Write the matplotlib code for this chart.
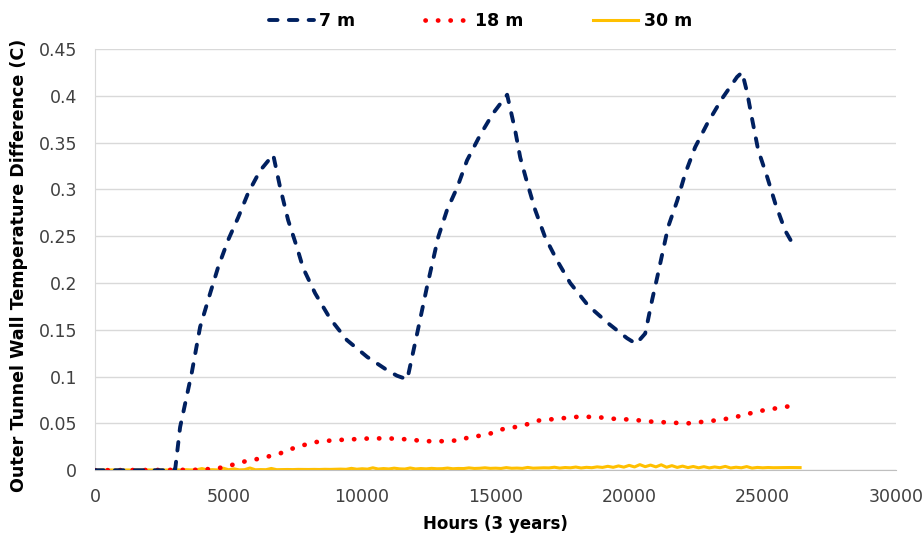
import matplotlib
matplotlib.use("Agg")
import matplotlib.pyplot as plt
import numpy as np

# ---- data ----
h7 = [0, 2900, 3000, 3184, 3620, 3933, 4310, 4610, 4985, 5360, 5730, 6180, 6670, 6930, 7230, 7560,
      7790, 8240, 8800, 9430, 10190, 10930, 11300, 11690, 12060, 12430, 12850, 13180, 13560, 13930,
      14420, 14900, 15430, 15730, 15920, 16180, 16480, 16850, 17300, 17790, 18460, 19210, 19920,
      20260, 20600, 20860, 21050, 21270, 21460, 21800, 22100, 22470, 22920, 23480, 24040, 24230,
      24420, 24610, 24830, 25170, 25470, 25840, 26220]
v7 = [0, 0, 0.001, 0.046, 0.104, 0.153, 0.189, 0.217, 0.246, 0.270, 0.296, 0.320, 0.337, 0.302,
      0.267, 0.238, 0.216, 0.189, 0.162, 0.139, 0.121, 0.107, 0.101, 0.097, 0.146, 0.196, 0.249,
      0.278, 0.302, 0.331, 0.358, 0.381, 0.401, 0.363, 0.334, 0.307, 0.278, 0.249, 0.224, 0.200,
      0.176, 0.157, 0.141, 0.135, 0.146, 0.182, 0.206, 0.235, 0.260, 0.288, 0.317, 0.345, 0.370,
      0.397, 0.420, 0.425, 0.403, 0.374, 0.342, 0.313, 0.285, 0.256, 0.237]

h18 = [0, 4000, 4800, 5540, 6260, 6930, 7560, 8240, 8910, 9610, 10300, 11000, 11690, 12360, 13000,
       13670, 13970, 14680, 15280, 15920, 16290, 16590, 17300, 18050, 18720, 19400, 20110, 20790,
       21460, 22170, 22850, 23480, 24160, 24830, 25470, 26140, 26280]
v18 = [0, 0.0005, 0.003, 0.009, 0.013, 0.018, 0.025, 0.030, 0.032, 0.033, 0.034, 0.034, 0.033,
       0.031, 0.031, 0.032, 0.035, 0.038, 0.044, 0.047, 0.050, 0.053, 0.055, 0.057, 0.057, 0.055,
       0.054, 0.052, 0.051, 0.050, 0.052, 0.054, 0.058, 0.063, 0.066, 0.069, 0.070]

h30_step = 200
v30_milli = [0.2, 0.3, 0.2, 0.3, 0.2, 0.2, 0.3, 0.2, 0.3, 0.2, 0.3, 0.2, 0.3, 0.2, 0.3,
             0.4, 0.3, 0.6, 0.3, 0.5, 1.8, 0.4, 0.6, 0.3, 2.2,
             0.5, 1.5, 0.4, 0.6, 2.4, 0.5, 0.7, 0.6, 1.9, 0.6,
             0.7, 0.8, 0.7, 0.9, 0.8, 0.8, 0.9, 0.8, 1.0, 0.9,
             1.0, 1.2, 1.0, 2.0, 1.1, 1.6, 1.2, 2.6, 1.3, 1.8,
             1.4, 2.2, 1.5, 1.3, 2.4, 1.4, 1.8, 1.5, 2.0, 1.6,
             1.7, 2.3, 1.6, 1.9, 1.8, 2.5, 1.9, 2.1, 2.6, 2.0,
             2.2, 1.9, 2.8, 2.1, 2.3, 2.0, 3.0, 2.2, 2.4, 2.6,
             2.5, 3.2, 2.3, 2.9, 2.6, 3.4, 2.4, 3.1, 2.7, 3.6,
             3.0, 4.2, 3.1, 4.6, 3.3, 5.2, 3.5, 6.0, 3.8, 5.5,
             3.6, 5.8, 3.2, 4.9, 3.0, 4.4, 2.8, 4.0, 2.6, 3.8,
             2.5, 3.5, 2.7, 4.1, 2.4, 3.2, 2.6, 3.9, 2.3, 3.0,
             2.6, 2.9, 2.7, 2.8, 2.8, 2.9, 2.8, 2.8]
h30 = np.arange(len(v30_milli)) * h30_step
v30 = np.array(v30_milli) / 1000.0

labels = ["7 m", "18 m", "30 m"]
xticks = [0, 5000, 10000, 15000, 20000, 25000, 30000]
yticks = [0, 0.05, 0.1, 0.15, 0.2, 0.25, 0.3, 0.35, 0.4, 0.45]

# ---- figure ----
plt.rcParams['font.family'] = ['DejaVu Sans']
fig = plt.figure(figsize=(9.23, 5.43), dpi=100)
ax = fig.add_axes([0.103, 0.134, 0.868, 0.776])

ax.plot(h30, v30, color='#FFC000', lw=2.2, label=labels[2], zorder=2)
ax.plot(h18, v18, color='#FF0000', lw=3.4, linestyle=(0, (0.05, 2.6)),
        dash_capstyle='round', label=labels[1], zorder=3)
ax.plot(h7, v7, color='#002060', lw=2.8, linestyle=(0, (2.2, 2.9)),
        dash_capstyle='round', label=labels[0], zorder=4)

ax.set_xlim(0, 30000)
ax.set_ylim(0, 0.45)
ax.set_xticks(xticks)
ax.set_yticks(yticks)
ax.set_yticklabels([f"{t:g}" for t in yticks])
ax.tick_params(length=0, labelsize=12.5, colors='#404040')
ax.tick_params(axis='x', pad=13)
ax.tick_params(axis='y', pad=13)
ax.yaxis.grid(True, color='#D9D9D9', lw=1)
ax.set_axisbelow(True)
for s in ['top', 'right']:
    ax.spines[s].set_visible(False)
ax.spines['left'].set_color('#D9D9D9')
ax.spines['bottom'].set_color('#BFBFBF')

ax.set_xlabel("Hours (3 years)", fontsize=12, fontweight='bold', labelpad=6)
ax.set_ylabel("Outer Tunnel Wall Temperature Difference (C)", fontsize=12.6,
              fontweight='bold')
ax.yaxis.set_label_coords(-0.084, 0.485)

handles, labs = ax.get_legend_handles_labels()
order = [2, 1, 0]
leg = ax.legend([handles[i] for i in order], [labs[i] for i in order],
                loc='lower center', bbox_to_anchor=(0.481, 1.015), ncol=3, frameon=False,
                prop={'weight': 'bold', 'size': 12.5}, handlelength=2.6,
                columnspacing=4.0, handletextpad=0.3, borderaxespad=0.3)

fig.savefig("out.png", dpi=100)
